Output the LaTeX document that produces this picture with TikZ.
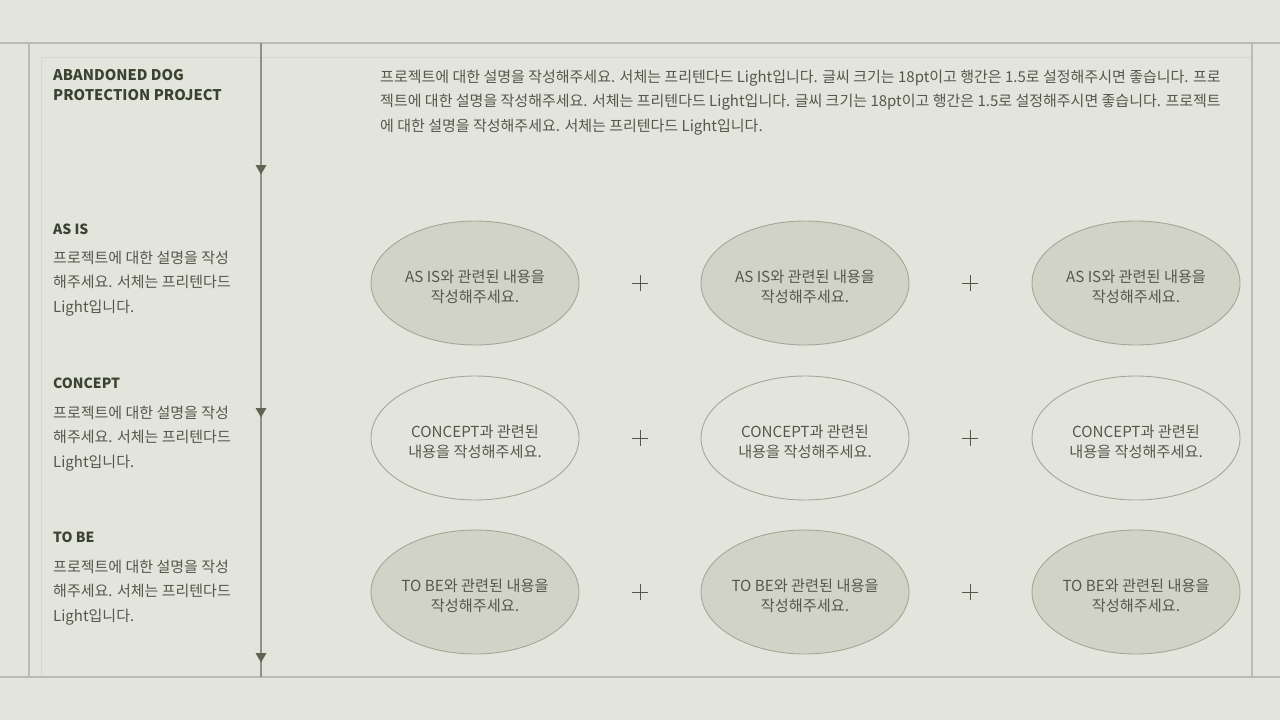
\documentclass[tikz,border=0pt]{standalone}
\usepackage{fontspec}
\setmainfont{Noto Sans CJK KR}
\definecolor{bg}{HTML}{E3E5DD}
\definecolor{frameC}{HTML}{B9BCB1}
\definecolor{faintC}{HTML}{D6D8CF}
\definecolor{lineC}{HTML}{8F9287}
\definecolor{ellFill}{HTML}{D1D3C6}
\definecolor{ellDraw}{HTML}{A4A797}
\definecolor{txtC}{HTML}{54574A}
\definecolor{titleC}{HTML}{3A4230}
\definecolor{triC}{HTML}{5F6553}
\tikzset{
  frameline/.style={draw=frameC, line width=1.2pt},
  faintline/.style={draw=faintC, line width=1pt},
  timeline/.style={draw=lineC, line width=1.2pt},
  headtxt/.style={anchor=north west, inner sep=0pt, text=titleC, align=left, font=\bfseries\fontsize{14.7}{20.5}\selectfont},
  labeltxt/.style={anchor=north west, inner sep=0pt, text=titleC, font=\bfseries\fontsize{14}{20}\selectfont},
  desctxt/.style={anchor=north west, inner sep=0pt, text=txtC, align=left, font=\fontsize{15}{24.5}\selectfont},
  ellbase/.style={ellipse, minimum width=208pt, minimum height=124pt, inner sep=0pt, line width=0.9pt, draw=ellDraw},
  ellfilled/.style={ellbase, fill=ellFill},
  ellopen/.style={ellbase, fill=bg},
  elltxt/.style={inner sep=0pt, align=center, text=txtC, font=\fontsize{15.2}{20}\selectfont},
  plusmark/.style={draw=txtC, line width=0.9pt},
  tri/.style={fill=triC},
}
\usetikzlibrary{shapes.geometric}
\begin{document}
\begin{tikzpicture}[x=1pt,y=-1pt]
\fill[bg] (0,0) rectangle (1280,720);
\useasboundingbox (0,0) rectangle (1280,720);

% faint inner frame
\draw[faintline] (41,57) -- (1251,57);
\draw[faintline] (41,57) -- (41,677);

% frame
\draw[frameline] (0,43) -- (1280,43);
\draw[frameline] (0,677) -- (1280,677);
\draw[frameline] (29,43) -- (29,677);
\draw[frameline] (1252,43) -- (1252,677);

% timeline
\coordinate (tTop) at (261,43);
\coordinate (tBot) at (261,677);
\draw[timeline] (tTop) -- (tBot);
\foreach \yy/\nm in {170/m1, 413/m2, 658/m3}{
  \coordinate (\nm) at (261,\yy);
  \fill[tri] ([shift={(-5.5,-5)}]\nm) -- ([shift={(5.5,-5)}]\nm) -- ([shift={(0,4.5)}]\nm) -- cycle;
}

% left texts
\node[headtxt] (title) at (53,69) {ABANDONED DOG\\PROTECTION PROJECT};

\node[labeltxt] (lab1) at (53,224) {AS IS};
\node[desctxt] (d1) at (53,250.5) {프로젝트에 대한 설명을 작성\\해주세요. 서체는 프리텐다드\\Light입니다.};

\node[labeltxt] (lab2) at (53,378) {CONCEPT};
\node[desctxt] (d2) at (53,405.5) {프로젝트에 대한 설명을 작성\\해주세요. 서체는 프리텐다드\\Light입니다.};

\node[labeltxt] (lab3) at (53,532) {TO BE};
\node[desctxt] (d3) at (53,559.5) {프로젝트에 대한 설명을 작성\\해주세요. 서체는 프리텐다드\\Light입니다.};

% top paragraph
\node[desctxt] (para) at (380,69.5) {프로젝트에 대한 설명을 작성해주세요. 서체는 프리텐다드 Light입니다. 글씨 크기는 18pt이고 행간은 1.5로 설정해주시면 좋습니다. 프로\\젝트에 대한 설명을 작성해주세요. 서체는 프리텐다드 Light입니다. 글씨 크기는 18pt이고 행간은 1.5로 설정해주시면 좋습니다. 프로젝트\\에 대한 설명을 작성해주세요. 서체는 프리텐다드 Light입니다.};

% ellipses
\node[ellfilled] (a1) at (475,283) {};
\node[ellfilled] (a2) at (805,283) {};
\node[ellfilled] (a3) at (1136,283) {};
\node[ellopen] (c1) at (475,438) {};
\node[ellopen] (c2) at (805,438) {};
\node[ellopen] (c3) at (1136,438) {};
\node[ellfilled] (b1) at (475,592) {};
\node[ellfilled] (b2) at (805,592) {};
\node[ellfilled] (b3) at (1136,592) {};

\foreach \nm in {a1,a2,a3}{
  \node[elltxt] (\nm t) at ([yshift=-3.5]\nm.center) {AS IS와 관련된 내용을\\작성해주세요.};
}
\foreach \nm in {c1,c2,c3}{
  \node[elltxt] (\nm t) at ([yshift=-3.5]\nm.center) {CONCEPT과 관련된\\내용을 작성해주세요.};
}
\foreach \nm in {b1,b2,b3}{
  \node[elltxt] (\nm t) at ([yshift=-3.5]\nm.center) {TO BE와 관련된 내용을\\작성해주세요.};
}

% plus marks
\foreach \xx/\yy/\nm in {640/283/p1, 970/283/p2, 640/438/p3, 970/438/p4, 640/592/p5, 970/592/p6}{
  \coordinate (\nm) at (\xx,\yy);
  \draw[plusmark] ([xshift=-8]\nm) -- ([xshift=8]\nm);
  \draw[plusmark] ([yshift=-8]\nm) -- ([yshift=8]\nm);
}
\end{tikzpicture}
\end{document}
